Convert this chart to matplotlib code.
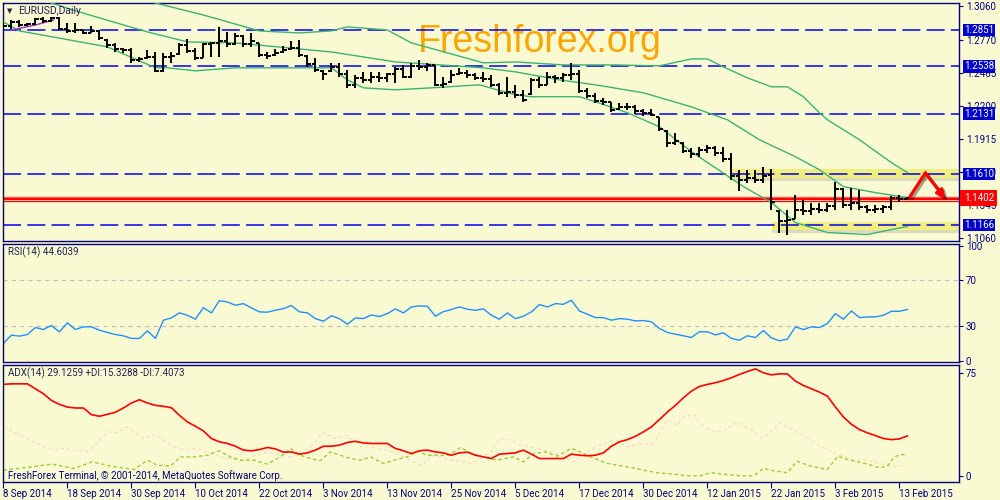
import numpy as np
import matplotlib.pyplot as plt
import matplotlib.transforms as mtransforms
import matplotlib.patheffects as pe
from matplotlib.patches import Rectangle

plt.rcParams['font.family'] = ['Roboto', 'DejaVu Sans']
plt.rcParams['lines.scale_dashes'] = False

BG = '#FAFAD2'
NAVY = '#000080'
TXT = '#202050'

# ---- price bars (EURUSD daily) ----
highs = [1.2922, 1.2939, 1.2939, 1.2913, 1.2957, 1.2965, 1.2965, 1.2965, 1.2913, 1.2913,
         1.2853, 1.2888, 1.2853, 1.2776, 1.2741, 1.2698, 1.2698, 1.2620, 1.2681, 1.2663,
         1.2655, 1.2663, 1.2741, 1.2776, 1.2698, 1.2741, 1.2750, 1.2879, 1.2836, 1.2827,
         1.2810, 1.2827, 1.2741, 1.2663, 1.2689, 1.2715, 1.2758, 1.2767, 1.2638, 1.2612,
         1.2508, 1.2569, 1.2569, 1.2508, 1.2465, 1.2491, 1.2491, 1.2491, 1.2482, 1.2534,
         1.2551, 1.2569, 1.2595, 1.2569, 1.2551, 1.2448, 1.2508, 1.2526, 1.2508, 1.2482,
         1.2491, 1.2465, 1.2396, 1.2448, 1.2379, 1.2336, 1.2439, 1.2448, 1.2491, 1.2465,
         1.2482, 1.2569, 1.2508, 1.2353, 1.2310, 1.2267, 1.2233, 1.2224, 1.2224, 1.2207,
         1.2172, 1.2172, 1.2103, 1.1991, 1.1965, 1.1888, 1.1836, 1.1845, 1.1862, 1.1853,
         1.1845, 1.1793, 1.1646, 1.1646, 1.1646, 1.1672, 1.1655, 1.1302, 1.1302, 1.1431,
         1.1388, 1.1362, 1.1362, 1.1362, 1.1543, 1.1491, 1.1491, 1.1474, 1.1345, 1.1345,
         1.1345, 1.1422, 1.1431, 1.1414]
lows = [1.2870, 1.2862, 1.2879, 1.2888, 1.2896, 1.2913, 1.2922, 1.2853, 1.2827, 1.2827,
        1.2819, 1.2827, 1.2767, 1.2698, 1.2663, 1.2655, 1.2569, 1.2577, 1.2603, 1.2491,
        1.2491, 1.2569, 1.2638, 1.2655, 1.2595, 1.2612, 1.2620, 1.2620, 1.2707, 1.2724,
        1.2707, 1.2707, 1.2620, 1.2603, 1.2629, 1.2655, 1.2681, 1.2620, 1.2534, 1.2491,
        1.2422, 1.2491, 1.2448, 1.2353, 1.2353, 1.2396, 1.2396, 1.2405, 1.2405, 1.2396,
        1.2439, 1.2439, 1.2508, 1.2500, 1.2370, 1.2353, 1.2396, 1.2465, 1.2439, 1.2422,
        1.2405, 1.2362, 1.2293, 1.2276, 1.2267, 1.2233, 1.2293, 1.2353, 1.2379, 1.2396,
        1.2405, 1.2422, 1.2310, 1.2267, 1.2224, 1.2207, 1.2146, 1.2164, 1.2164, 1.2129,
        1.2112, 1.2112, 1.1983, 1.1845, 1.1862, 1.1793, 1.1750, 1.1758, 1.1793, 1.1767,
        1.1715, 1.1560, 1.1460, 1.1534, 1.1534, 1.1534, 1.1302, 1.1103, 1.1086, 1.1216,
        1.1258, 1.1258, 1.1276, 1.1284, 1.1302, 1.1319, 1.1302, 1.1302, 1.1276, 1.1276,
        1.1276, 1.1302, 1.1371, 1.1380]
opens = [1.2905, 1.2890, 1.2920, 1.2900, 1.2905, 1.2945, 1.2930, 1.2955, 1.2860, 1.2840,
         1.2850, 1.2830, 1.2845, 1.2770, 1.2720, 1.2690, 1.2680, 1.2590, 1.2610, 1.2620,
         1.2500, 1.2620, 1.2645, 1.2720, 1.2670, 1.2615, 1.2730, 1.2740, 1.2760, 1.2730,
         1.2800, 1.2730, 1.2740, 1.2640, 1.2635, 1.2660, 1.2690, 1.2700, 1.2630, 1.2560,
         1.2500, 1.2500, 1.2530, 1.2470, 1.2380, 1.2440, 1.2420, 1.2450, 1.2440, 1.2470,
         1.2520, 1.2450, 1.2540, 1.2530, 1.2550, 1.2380, 1.2400, 1.2470, 1.2480, 1.2460,
         1.2440, 1.2430, 1.2380, 1.2310, 1.2320, 1.2290, 1.2300, 1.2420, 1.2380, 1.2450,
         1.2440, 1.2460, 1.2470, 1.2330, 1.2280, 1.2240, 1.2230, 1.2170, 1.2185, 1.2190,
         1.2150, 1.2140, 1.2100, 1.1980, 1.1880, 1.1880, 1.1810, 1.1780, 1.1820, 1.1830,
         1.1790, 1.1740, 1.1590, 1.1560, 1.1570, 1.1560, 1.1600, 1.1290, 1.1200, 1.1220,
         1.1300, 1.1290, 1.1310, 1.1300, 1.1330, 1.1480, 1.1340, 1.1360, 1.1320, 1.1300,
         1.1310, 1.1320, 1.1400, 1.1390]
closes = [1.2890, 1.2920, 1.2900, 1.2905, 1.2945, 1.2930, 1.2955, 1.2860, 1.2840, 1.2850,
          1.2830, 1.2845, 1.2780, 1.2720, 1.2690, 1.2680, 1.2590, 1.2600, 1.2620, 1.2500,
          1.2620, 1.2630, 1.2720, 1.2670, 1.2610, 1.2730, 1.2740, 1.2760, 1.2730, 1.2800,
          1.2730, 1.2760, 1.2640, 1.2630, 1.2650, 1.2680, 1.2700, 1.2640, 1.2560, 1.2505,
          1.2470, 1.2530, 1.2470, 1.2380, 1.2440, 1.2420, 1.2450, 1.2440, 1.2470, 1.2520,
          1.2450, 1.2540, 1.2530, 1.2550, 1.2380, 1.2390, 1.2460, 1.2480, 1.2460, 1.2440,
          1.2430, 1.2380, 1.2310, 1.2320, 1.2290, 1.2250, 1.2420, 1.2380, 1.2450, 1.2440,
          1.2460, 1.2470, 1.2330, 1.2280, 1.2240, 1.2230, 1.2160, 1.2185, 1.2190, 1.2150,
          1.2140, 1.2120, 1.2000, 1.1880, 1.1890, 1.1810, 1.1780, 1.1820, 1.1830, 1.1790,
          1.1740, 1.1590, 1.1560, 1.1570, 1.1560, 1.1590, 1.1370, 1.1200, 1.1210, 1.1300,
          1.1290, 1.1310, 1.1300, 1.1330, 1.1480, 1.1340, 1.1360, 1.1320, 1.1300, 1.1310,
          1.1320, 1.1400, 1.1390, 1.1402]

# ---- Bollinger bands (bar index, price) ----
upper_x = [17, 19, 25, 32, 37, 41, 43, 48, 51, 60, 64, 70, 76, 82, 86, 88, 90, 93, 96,
           98, 100, 102, 103, 107, 111, 113]
upper_y = [1.3129, 1.3086, 1.2982, 1.2845, 1.2827, 1.2845, 1.2879, 1.2853, 1.2741, 1.2569,
           1.2577, 1.2551, 1.2551, 1.2543, 1.2603, 1.2603, 1.2534, 1.2439, 1.2362, 1.2362,
           1.2276, 1.2138, 1.2077, 1.1905, 1.1707, 1.1621]
mid_x = [4.5, 6, 9.5, 18, 23, 29, 41, 49, 60, 64, 69.5, 74, 80, 86, 90.5, 94.5, 99, 102,
         105, 109, 113]
mid_y = [1.3120, 1.3086, 1.3008, 1.2836, 1.2750, 1.2741, 1.2663, 1.2577, 1.2526, 1.2491,
         1.2422, 1.2379, 1.2310, 1.2189, 1.2077, 1.1905, 1.1758, 1.1646, 1.1500, 1.1448,
         1.1405]
lower_x = [0, 2, 13, 19, 20.5, 24, 29, 41, 43, 45, 49, 53.5, 59.5, 64, 66, 72, 74, 78, 82,
           86, 92.5, 96, 99, 103, 108, 111, 113]
lower_y = [1.2922, 1.2845, 1.2707, 1.2526, 1.2526, 1.2500, 1.2526, 1.2526, 1.2422, 1.2353,
           1.2336, 1.2353, 1.2379, 1.2293, 1.2276, 1.2276, 1.2233, 1.2138, 1.2017, 1.1801,
           1.1500, 1.1362, 1.1190, 1.1103, 1.1086, 1.1129, 1.1155]
purple_x = [1, 4, 6.3]
purple_y = [1.2853, 1.2896, 1.2939]

blue_levels = [1.2851, 1.2538, 1.2131, 1.1610, 1.1166]
red_level = 1.1402
red_level2 = 1.1374
price_ticks = [1.3060, 1.2770, 1.2485, 1.2200, 1.1915, 1.1630, 1.1345, 1.1060]

# forecast arrow (bar index, price)
arrow_x = [113.3, 115.25, 117.75]
arrow_y = [1.1411, 1.1618, 1.1394]

# ---- RSI(14) ----
rsi = [14.9, 22.2, 21.3, 22.7, 28.8, 27.1, 30.6, 25.0, 32.9, 27.1,
       29.4, 29.4, 26.5, 24.5, 22.7, 21.6, 19.3, 19.3, 25.9, 19.3,
       35.2, 37.2, 41.6, 39.5, 36.1, 46.2, 41.6, 52.3, 51.1, 48.3,
       49.7, 45.9, 42.5, 42.2, 43.9, 45.3, 48.0, 42.5, 41.6, 36.6,
       34.3, 39.0, 36.6, 31.7, 37.2, 36.6, 39.8, 38.4, 41.0, 45.1,
       41.6, 46.8, 47.7, 47.4, 38.7, 42.7, 44.5, 46.8, 44.8, 43.9,
       45.1, 39.5, 36.1, 41.6, 36.6, 38.7, 42.5, 48.8, 46.8, 49.7,
       49.1, 52.6, 43.3, 40.4, 37.5, 37.5, 35.2, 36.6, 36.1, 34.6,
       34.9, 33.8, 28.0, 24.5, 23.0, 21.6, 20.1, 25.1, 25.1, 22.4,
       24.2, 19.3, 17.8, 21.6, 20.1, 26.2, 19.8, 17.2, 18.7, 29.4,
       27.1, 29.4, 28.8, 32.3, 41.0, 36.1, 43.3, 37.5, 38.1, 38.1,
       39.5, 43.0, 43.0, 44.6]

# ---- ADX(14) ----
adx = [66.4, 66.8, 66.8, 66.8, 63.2, 59.6, 54.8, 51.9, 50.0, 49.3,
       49.3, 44.5, 43.3, 44.7, 46.2, 49.3, 52.9, 55.3, 52.9, 51.2,
       50.5, 49.5, 44.0, 39.2, 36.1, 32.7, 27.2, 24.8, 23.6, 21.6,
       18.8, 18.3, 19.2, 20.7, 19.7, 17.3, 17.5, 15.9, 16.8, 18.8,
       21.6, 21.6, 22.4, 24.3, 25.2, 24.0, 23.6, 23.6, 23.6, 20.0,
       18.3, 16.3, 18.3, 18.8, 17.5, 16.8, 15.1, 16.8, 17.3, 15.1,
       13.9, 12.7, 15.9, 16.3, 16.8, 18.8, 15.9, 12.7, 12.7, 12.7,
       12.7, 15.9, 15.1, 14.7, 15.1, 16.8, 21.6, 24.8, 26.4, 28.8,
       32.0, 35.6, 40.9, 46.4, 51.2, 56.7, 61.5, 64.9, 66.4, 67.6,
       69.2, 71.2, 73.6, 75.7, 77.6, 74.8, 73.3, 74.0, 74.0, 68.8,
       65.6, 63.2, 60.8, 57.9, 50.0, 42.8, 37.5, 33.7, 31.3, 29.3,
       27.2, 26.4, 26.9, 29.1]
pdi_x = [0, 3, 6.1, 8.8, 11.1, 13.4, 16.3, 18, 19.2, 20.9, 22.1, 23.8, 25.5, 26.9, 28.4,
         29.6, 31.3, 33, 34.6, 35.9, 37.1, 38.4, 39.6, 40.9, 42.1, 43.4, 44.6, 45.9, 47.5,
         48.8, 50.5, 51.7, 53, 54.2, 55.7, 57.1, 58.4, 59.6, 61.7,
         63.8, 65, 66.3, 67.8, 69.2, 71, 72.1, 73.4, 75.5, 78, 80, 81.7, 83.8, 85.5, 87.1,
         88.4, 90, 92.1, 93.8, 95, 96.3, 98, 99.2, 100.5, 101.7, 103, 104.3, 105.5, 106.8,
         108, 109.5, 110.5, 111.3, 112.1, 113]
pdi_y = [4.3, 6.3, 8.7, 5.5, 10.3, 7.2, 4.8, 11.5, 7.9, 7.2, 13.9, 13.9, 15.1, 18.3, 13.9,
         11.5, 11.5, 8.7, 13.9, 20.0, 15.1, 12.7, 11.1, 17.5, 15.1, 12.7, 11.5, 13.9, 9.1,
         11.5, 13.9, 18.0, 15.1, 15.1, 15.1, 20.7, 16.8, 14.4, 11.5,
         13.9, 10.3, 16.3, 17.5, 14.4, 20.0, 17.5, 13.9, 9.1, 6.7, 4.3, 2.4, 1.4, 0.2, 0.2,
         2.4, 1.4, 0.2, 0.2, 5.5, 3.8, 2.4, 10.8, 7.9, 6.3, 4.8, 14.4, 12.0, 10.3,
         8.7, 6.0, 7.2, 13.5, 15.6, 15.3]
mdi_x = [0, 2.1, 3.8, 6.1, 7.3, 9.2, 10.5, 11.7, 13, 14.2, 15.5, 16.7, 17.5, 19.2, 20.9,
         22.5, 24.2, 25.9, 28, 30, 31.7, 33, 34.6, 35.9, 37.1, 38.4, 40, 41.3, 43, 44.6,
         46.3, 47.5, 48.4, 49.6, 50.9, 52.3, 53.4, 54.6, 55.9, 57.1, 58.4, 59.6, 60.9, 62.1,
         63.4, 64.6, 66.3, 68.4, 70, 71.3, 72.5, 74.2, 75.5, 76.5, 78, 79.6, 81.3, 82.1, 83,
         84.2, 85, 86.3, 87.1, 88.4, 90, 91.7, 93.4, 95, 97.1, 98.4, 99.6, 101.3, 102.9,
         104.6, 106.2, 107.9, 109.5, 111.2, 112.9]
mdi_y = [35.6, 29.6, 24.8, 18.8, 20.0, 18.8, 17.5, 23.6, 32.0, 31.3, 35.6, 30.8, 27.2, 29.6,
         22.4, 18.8, 20.0, 16.3, 12.7, 11.5, 15.1, 17.5, 15.1, 13.9, 15.1, 21.2, 32.0, 27.2,
         29.6, 21.6, 20.7, 19.2, 18.3, 15.1, 11.5, 7.2, 15.1, 13.9, 11.5, 10.8, 9.1, 12.7,
         17.5, 27.6,
         26.0, 22.4, 20.7, 17.5, 13.9, 10.3, 16.3, 21.2, 24.8, 26.4, 21.2, 23.1, 23.6, 32.0,
         40.9, 36.8, 42.8, 44.7, 38.0, 32.7, 32.0, 39.2, 33.7, 27.2, 38.5, 34.4, 30.8, 24.8,
         18.8, 15.1, 11.5, 12.0, 9.1, 7.2, 7.4]

date_labels = ['8 Sep 2014', '18 Sep 2014', '30 Sep 2014', '10 Oct 2014', '22 Oct 2014',
               '3 Nov 2014', '13 Nov 2014', '25 Nov 2014', '5 Dec 2014', '17 Dec 2014',
               '30 Dec 2014', '12 Jan 2015', '22 Jan 2015', '3 Feb 2015', '13 Feb 2015']
date_pos = list(range(0, 113, 8))

n = len(closes)
x = np.arange(n)
hi = np.array(highs)
lo = np.array(lows)
op = np.clip(opens, lo, hi)
cl = np.clip(closes, lo, hi)

fig = plt.figure(figsize=(10, 5), dpi=100, facecolor=BG)
ax = fig.add_axes([0.003, 0.519, 0.956, 0.475], facecolor=BG)
ax_rsi = fig.add_axes([0.003, 0.276, 0.956, 0.237], facecolor=BG)
ax_adx = fig.add_axes([0.003, 0.036, 0.956, 0.235], facecolor=BG)

for a in (ax, ax_rsi, ax_adx):
    for s in a.spines.values():
        s.set_color(NAVY)
        s.set_linewidth(1.0)
    a.set_xlim(-0.05, 119.45)
    a.yaxis.tick_right()
    a.tick_params(axis='y', colors=NAVY, labelcolor=NAVY, labelsize=7, length=3,
                  width=0.8, pad=2)
    a.tick_params(axis='x', length=0, labelbottom=False)

# ---- main price panel ----
ax.set_ylim(1.10343, 1.30859)
ax.set_yticks(price_ticks)
ax.set_yticklabels([f'{p:.4f}' for p in price_ticks])

# highlighted zones
ax.add_patch(Rectangle((91.1, 1.1577), 30, 0.0078, fc='#F2EE7C', ec='none', zorder=1))
ax.add_patch(Rectangle((91.1, 1.1548), 30, 0.0029, fc='#B8B8A0', ec='none', alpha=0.45, zorder=1))
ax.add_patch(Rectangle((96.1, 1.1121), 30, 0.0069, fc='#F2EE7C', ec='none', zorder=1))
ax.add_patch(Rectangle((96.1, 1.1095), 30, 0.0026, fc='#B8B8A0', ec='none', alpha=0.45, zorder=1))

for lvl in blue_levels:
    ax.axhline(lvl, color='#0000EE', lw=1.1, dashes=(13, 4.5), zorder=2)
ax.axhline(red_level, color='#FF0000', lw=2.3, zorder=2)
ax.axhline(red_level + 0.0004, color='#FF9090', lw=0.8, alpha=0.6, zorder=2)
ax.axhline(red_level2, color='#FF0000', lw=0.9, zorder=2)

ax.text(0.5617, 0.836, 'Freshforex.org', transform=ax.transAxes, ha='center', va='center',
        fontsize=27, color='#FFA500', family=['Liberation Sans', 'DejaVu Sans'], zorder=1.5)

ax.plot(upper_x, upper_y, color='#3CB371', lw=1, zorder=3)
ax.plot(mid_x, mid_y, color='#3CB371', lw=1, zorder=3)
ax.plot(lower_x, lower_y, color='#3CB371', lw=1, zorder=3)
ax.plot(purple_x, purple_y, color='#9932CC', lw=1, zorder=3)

ax.vlines(x, lo, hi, color='black', lw=1.4, zorder=4)
ax.hlines(op, x - 0.4, x, color='black', lw=1.4, zorder=4)
ax.hlines(cl, x, x + 0.4, color='black', lw=1.4, zorder=4)

shadow = [pe.SimpleLineShadow(offset=(1.5, -1.5), alpha=0.35), pe.Normal()]
ax.plot(arrow_x[:2], arrow_y[:2], color='#FF0000', lw=2.3, solid_capstyle='round',
        path_effects=shadow, zorder=6)
ax.annotate('', xy=(arrow_x[2], arrow_y[2]), xytext=(arrow_x[1], arrow_y[1]),
            arrowprops=dict(arrowstyle='-|>', color='#FF0000', lw=2.3, mutation_scale=12,
                            shrinkA=0, shrinkB=0, path_effects=shadow), zorder=6)

ax.text(0.0065, 0.966, '\u25BC', transform=ax.transAxes, ha='center', va='center',
        fontsize=5, color=TXT, family=['DejaVu Sans'])
ax.text(0.0157, 0.966, 'EURUSD,Daily', transform=ax.transAxes, ha='left', va='center',
        fontsize=7.5, color=TXT)

trans = mtransforms.blended_transform_factory(ax.transAxes, ax.transData)
for lvl in blue_levels:
    ax.text(1.005, lvl, f'{lvl:.4f}', transform=trans, ha='left', va='center', fontsize=7,
            color='white', clip_on=False, zorder=7,
            bbox=dict(boxstyle='square,pad=0.12', fc='#0000CD', ec='none'))
ax.text(1.005, red_level, f'{red_level:.4f}', transform=trans, ha='left', va='center',
        fontsize=7, color='white', clip_on=False, zorder=7,
        bbox=dict(boxstyle='square,pad=0.35', fc='#FF0000', ec='none'))

# ---- RSI panel ----
ax_rsi.set_ylim(-1.3, 102.2)
ax_rsi.axhline(70, color='#C0C0C0', lw=0.9, dashes=(3, 3))
ax_rsi.axhline(30, color='#C0C0C0', lw=0.9, dashes=(3, 3))
ax_rsi.plot(x, rsi, color='#1E90FF', lw=1)
ax_rsi.set_yticks([0, 30, 70, 100])
ax_rsi.set_yticklabels(['0', '30', '70', '100'])
ax_rsi.text(0.0052, 0.924, 'RSI(14) 44.6039', transform=ax_rsi.transAxes, ha='left',
            va='center', fontsize=7, color=TXT)

# ---- ADX panel ----
ax_adx.set_ylim(-4.3, 80.8)
ax_adx.plot(mdi_x, mdi_y, color='#F8DCC2', lw=1, dashes=(2.5, 2))
ax_adx.plot(pdi_x, pdi_y, color='#9ACD32', lw=1, dashes=(2.5, 2))
ax_adx.plot(x, adx, color='#FF0000', lw=1.2)
ax_adx.set_yticks([0, 75])
ax_adx.set_yticklabels(['0', '75'])
ax_adx.text(0.0052, 0.924, 'ADX(14) 29.1259 +DI:15.3288 -DI:7.4073',
            transform=ax_adx.transAxes, ha='left', va='center', fontsize=7, color=TXT)
ax_adx.text(0.0052, 0.059, 'FreshForex Terminal, \u00a9 2001-2014, MetaQuotes Software Corp.',
            transform=ax_adx.transAxes, ha='left', va='center', fontsize=7, color=NAVY)
ax_adx.set_xticks(date_pos)
ax_adx.set_xticklabels(date_labels, ha='left', fontsize=7, color=NAVY)
ax_adx.tick_params(axis='x', length=4, width=0.8, colors=NAVY, pad=1, labelbottom=True)

fig.savefig('out.png', dpi=100, facecolor=BG)
